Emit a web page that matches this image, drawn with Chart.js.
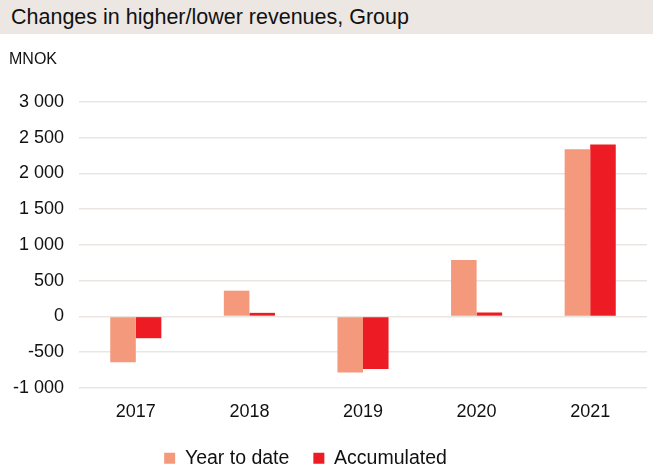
<!DOCTYPE html>
<html>
<head>
<meta charset="utf-8">
<script src="https://cdn.jsdelivr.net/npm/chart.js@4.4.1/dist/chart.umd.min.js"></script>
<style>
  html, body { margin: 0; padding: 0; background: #fff; }
  #wrap { position: relative; width: 653px; height: 470px; font-family: "Liberation Sans", Arial, sans-serif; }
  #title { position: absolute; left: 0; top: 0; width: 653px; height: 34px; background: #ece7e3;
           font-size: 21.5px; line-height: 34px; padding-left: 11px; box-sizing: border-box; color: #111; }
  #unit { position: absolute; left: 9px; top: 50px; font-size: 16px; color: #111; }
  canvas { position: absolute; left: 0; top: 0; }
</style>
</head>
<body>
<div id="wrap">
  <canvas id="chart" width="653" height="470"></canvas>
  <div id="title">Changes in higher/lower revenues, Group</div>
  <div id="unit">MNOK</div>
</div>
<script>
// Data
const years = ['2017', '2018', '2019', '2020', '2021'];
const yearToDate = [-640, 360, -785, 790, 2340];
const accumulated = [-305, 50, -735, 55, 2405];

// Y axis: -1 000 to 3 000 with step 500
const yMin = -1000;
const yMax = 3000;
const yStep = 500;

// Norwegian style thousands separator (space)
function formatTick(v) {
    const s = Math.abs(v).toString().replace(/\B(?=(\d{3})+(?!\d))/g, ' ');
    return (v < 0 ? '-' : '') + s;
}

// legend in the original sits a little left of the page centre
const legendShift = {
    id: 'legendShift',
    afterLayout(chart) {
        chart.legend.left -= 18;
        chart.legend.right -= 18;
    }
};

const ctx = document.getElementById('chart').getContext('2d');
new Chart(ctx, {
    type: 'bar',
    data: {
        labels: years,
        datasets: [
            { label: 'Year to date', data: yearToDate, backgroundColor: '#f4997b' },
            { label: 'Accumulated', data: accumulated, backgroundColor: '#ed1c24' }
        ]
    },
    options: {
        responsive: false,
        animation: false,
        devicePixelRatio: 1,
        datasets: {
            bar: { categoryPercentage: 0.45, barPercentage: 1.0 }
        },
        layout: { padding: { top: 102, right: 6, left: 0, bottom: -8 } },
        scales: {
            x: {
                grid: { display: false },
                border: { display: false },
                ticks: { color: '#111', padding: 5, font: { family: 'Liberation Sans', size: 18 } },
                afterFit: (scale) => { scale.height = scale.height - 3; }
            },
            y: {
                min: yMin,
                max: yMax,
                ticks: {
                    stepSize: yStep,
                    padding: 15,
                    color: '#111',
                    font: { family: 'Liberation Sans', size: 18 },
                    callback: (v) => formatTick(v)
                },
                grid: { color: '#ebe5e1', lineWidth: 1.5, drawTicks: false },
                border: { display: false },
                afterFit: (scale) => { scale.width = 79; }
            }
        },
        plugins: {
            legend: {
                position: 'bottom',
                labels: {
                    boxWidth: 11,
                    boxHeight: 11,
                    padding: 24,
                    color: '#111',
                    font: { family: 'Liberation Sans', size: 19.5 }
                }
            },
            tooltip: { enabled: false }
        }
    },
    plugins: [legendShift]
});
</script>
</body>
</html>
